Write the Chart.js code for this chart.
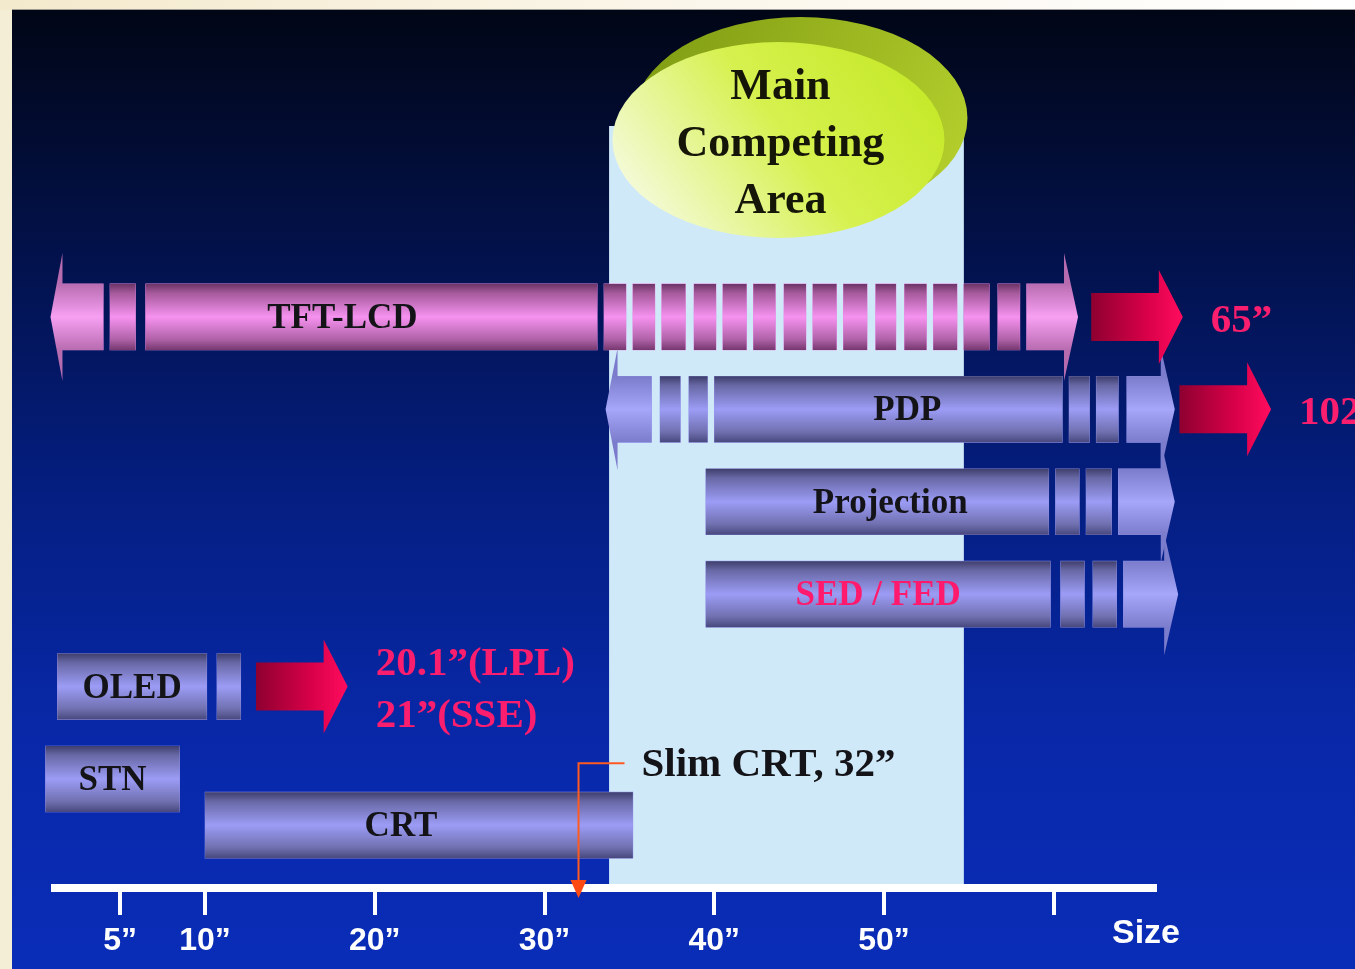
<!DOCTYPE html>
<html>
<head>
<meta charset="utf-8">
<script src="https://cdn.jsdelivr.net/npm/chart.js@4.4.1/dist/chart.umd.min.js"></script>
<style>
html,body{margin:0;padding:0;background:#f5eed6;overflow:hidden}
canvas{display:block}
</style>
</head>
<body>
<canvas id="c" width="1355" height="969"></canvas>
<script>
// ---------------- data (screen sizes in inches) ----------------
const categories = ['TFT-LCD', 'PDP', 'Projection', 'SED / FED', 'OLED', 'STN', 'CRT'];

const tftLcdSegments = [[1.6, 4.0], [4.4, 5.9], [6.5, 33.1], [33.5, 34.8], [35.2, 36.5], [36.9, 38.3],
  [38.8, 40.1], [40.5, 41.9], [42.3, 43.6], [44.1, 45.4], [45.8, 47.2], [47.6, 49.0], [49.5, 50.7],
  [51.2, 52.5], [52.9, 54.3], [54.7, 56.2], [56.7, 58.0], [58.4, 60.6]];
const pdpSegments = [[34.3, 36.3], [36.8, 38.0], [38.5, 39.6], [40.0, 60.5], [60.9, 62.1], [62.5, 63.8], [64.3, 66.3]];
const projectionSegments = [[39.5, 59.7], [60.1, 61.5], [61.9, 63.4], [63.8, 66.3]];
const sedFedSegments = [[39.5, 59.8], [60.4, 61.8], [62.3, 63.7], [64.1, 66.5]];
const oledSegments = [[1.3, 10.1], [10.7, 12.1]];
const stnSegments = [[0.6, 8.5]];
const crtSegments = [[10.0, 35.2]];

const leftArrowRows = ['TFT-LCD', 'PDP'];
const rightArrowRows = ['TFT-LCD', 'PDP', 'Projection', 'SED / FED'];

const growthRows = ['TFT-LCD', 'PDP', 'OLED'];
const growthRanges = [[62.2, 67.6], [67.4, 72.8], [13.0, 18.4]];
const growthLabels = [['65”'], ['102”'], ['20.1”(LPL)', '21”(SSE)']];

const xTickValues = [5, 10, 20, 30, 40, 50, 60];
const xTickLabels = ['5”', '10”', '20”', '30”', '40”', '50”', ''];
const axisTitle = 'Size';

const mainAreaRange = [33.8, 54.7];
const mainAreaLabel = ['Main', 'Competing', 'Area'];
const slimCrtSize = 32;
const slimCrtLabel = 'Slim CRT, 32”';

// ---------------- layout / style ----------------
const rowSegments = [tftLcdSegments, pdpSegments, projectionSegments, sedFedSegments, oledSegments, stnSegments, crtSegments];
// rows sit on every other lane; the last row (CRT) is tucked half a lane under STN
const lane = i => (i === categories.length - 1 ? 2 * (i - 1) + 1 : 2 * i);
const SERIF = '"Liberation Serif","Times New Roman",serif';
const SANS = '"Liberation Sans","Arial",sans-serif';
const labelShift = {'TFT-LCD': -29, 'PDP': 19, 'Projection': 13, 'CRT': -18};
const pinkStops = [[0, '#6c3466'], [0.14, '#a65a9c'], [0.5, '#f692f0'], [0.84, '#b062a8'], [1, '#76386f']];
const pinkArrowStops = [[0, '#b86cb0'], [0.5, '#f7a0f3'], [1, '#b86cb0']];
const lavStops = [[0, '#3e3e6c'], [0.14, '#6868a6'], [0.5, '#9c9cf6'], [0.84, '#7070b0'], [1, '#48487e']];
const lavArrowStops = [[0, '#7c7ccc'], [0.5, '#a6a6fa'], [1, '#7c7ccc']];

function vGrad(ctx, top, bottom, stops) {
  const g = ctx.createLinearGradient(0, top, 0, bottom);
  stops.forEach(([o, c]) => g.addColorStop(o, c));
  return g;
}

const deco = {
  id: 'deco',
  beforeDraw(chart) {
    const ctx = chart.ctx, W = chart.width, H = chart.height;
    ctx.save();
    ctx.fillStyle = '#f5eed6';
    ctx.fillRect(0, 0, W, H);
    const tg = ctx.createLinearGradient(0, 0, W, 0);
    tg.addColorStop(0, '#f3e9cc'); tg.addColorStop(0.5, '#fbf6ea'); tg.addColorStop(1, '#ffffff');
    ctx.fillStyle = tg;
    ctx.fillRect(0, 0, W, 10);
    const bg = ctx.createLinearGradient(0, 10, 0, H);
    bg.addColorStop(0, '#010616');
    bg.addColorStop(0.25, '#02114a');
    bg.addColorStop(0.5, '#041e80');
    bg.addColorStop(0.75, '#0828a8');
    bg.addColorStop(1, '#0a2db8');
    ctx.fillStyle = bg;
    ctx.fillRect(12, 10, W - 12, H - 10);
    ctx.fillStyle = 'rgba(120,120,120,0.7)';
    ctx.fillRect(12, 9, W - 12, 1);
    ctx.restore();
  },
  beforeDatasetsDraw(chart) {
    const ctx = chart.ctx, xs = chart.scales.x, area = chart.chartArea;
    const xa = xs.getPixelForValue(mainAreaRange[0]);
    const xb = xs.getPixelForValue(mainAreaRange[1]);
    const mid = (xa + xb) / 2;
    ctx.save();
    ctx.fillStyle = '#cfe9f9';
    ctx.fillRect(xa, 126, xb - xa, area.bottom - 4 - 126);
    // outer (shadow) ellipse
    const ocx = mid + 14, ocy = 118;
    const og = ctx.createLinearGradient(ocx - 160, ocy - 100, ocx + 160, ocy + 60);
    og.addColorStop(0, '#7e9a12'); og.addColorStop(1, '#b4cf2c');
    ctx.fillStyle = og;
    ctx.beginPath(); ctx.ellipse(ocx, ocy, 167, 101, 0, 0, Math.PI * 2); ctx.fill();
    // inner ellipse
    const icx = mid - 8, icy = 140;
    const ig = ctx.createLinearGradient(icx + 120, icy - 90, icx - 130, icy + 95);
    ig.addColorStop(0, '#c6e92a'); ig.addColorStop(0.45, '#d6f14e'); ig.addColorStop(1, '#f6fbe2');
    ctx.fillStyle = ig;
    ctx.beginPath(); ctx.ellipse(icx, icy, 166, 98, 0, 0, Math.PI * 2); ctx.fill();
    ctx.fillStyle = '#161608';
    ctx.font = 'bold 44px ' + SERIF;
    ctx.textAlign = 'center'; ctx.textBaseline = 'middle';
    mainAreaLabel.forEach((t, k) => ctx.fillText(t, icx + 2, 88 + k * 57));
    ctx.restore();
  },
  afterDatasetsDraw(chart) {
    const ctx = chart.ctx, xs = chart.scales.x, ys = chart.scales.y;
    ctx.save();
    chart.data.datasets.forEach((ds, di) => {
      const name = categories[di];
      const meta = chart.getDatasetMeta(di);
      const pink = name === 'TFT-LCD';
      let best = null, bestLen = -1;
      meta.data.forEach((el, j) => {
        const {x, y, base, height} = el.getProps(['x', 'y', 'base', 'height'], true);
        const L = Math.min(x, base), R = Math.max(x, base), T = y - height / 2, B = y + height / 2;
        const leftHead = j === 0 && leftArrowRows.includes(name);
        const rightHead = j === meta.data.length - 1 && rightArrowRows.includes(name);
        const spike = pink ? 31 : 28;
        ctx.beginPath();
        ctx.moveTo(L, T);
        ctx.lineTo(R, T);
        if (rightHead) { ctx.lineTo(R, T - spike); ctx.lineTo(R + 14, y); ctx.lineTo(R, B + spike); }
        ctx.lineTo(R, B);
        ctx.lineTo(L, B);
        if (leftHead) { ctx.lineTo(L, B + spike); ctx.lineTo(L - 12, y); ctx.lineTo(L, T - spike); }
        ctx.closePath();
        const arrowSeg = leftHead || rightHead;
        const stops = pink ? (arrowSeg ? pinkArrowStops : pinkStops) : (arrowSeg ? lavArrowStops : lavStops);
        ctx.fillStyle = vGrad(ctx, T, B, stops);
        ctx.fill();
        if (R - L > bestLen) { bestLen = R - L; best = {L, R, y}; }
      });
      if (best) {
        ctx.font = 'bold 35px ' + SERIF;
        ctx.textAlign = 'center'; ctx.textBaseline = 'middle';
        ctx.fillStyle = name === 'SED / FED' ? '#ff1a6e' : '#141418';
        ctx.fillText(name, (best.L + best.R) / 2 + (labelShift[name] || 0), best.y + 2);
      }
    });

    // growth arrows
    growthRows.forEach((name, k) => {
      const i = categories.indexOf(name);
      const yc = ys.getPixelForValue(lane(i));
      const x0 = xs.getPixelForValue(growthRanges[k][0]);
      const x1 = xs.getPixelForValue(growthRanges[k][1]);
      const hx = x1 - 24;
      const g = ctx.createLinearGradient(x0, 0, x1, 0);
      g.addColorStop(0, '#8e0030'); g.addColorStop(0.6, '#d80048'); g.addColorStop(1, '#ff0c5e');
      ctx.fillStyle = g;
      ctx.beginPath();
      ctx.moveTo(x0, yc - 24); ctx.lineTo(hx, yc - 24); ctx.lineTo(hx, yc - 47);
      ctx.lineTo(x1, yc); ctx.lineTo(hx, yc + 47); ctx.lineTo(hx, yc + 24); ctx.lineTo(x0, yc + 24);
      ctx.closePath(); ctx.fill();
      const lines = growthLabels[k];
      ctx.fillStyle = '#fb1e6e';
      ctx.font = 'bold 41px ' + SERIF;
      ctx.textAlign = 'left'; ctx.textBaseline = 'middle';
      lines.forEach((t, m) => {
        const off = (m - (lines.length - 1) / 2) * 52;
        ctx.fillText(t, x1 + 28, yc + 4 + off);
      });
    });

    // slim CRT annotation
    const ci = categories.indexOf('CRT');
    const crtY = ys.getPixelForValue(lane(ci));
    const sx = xs.getPixelForValue(slimCrtSize);
    const ty = crtY - 62;
    ctx.strokeStyle = '#ff5a20'; ctx.lineWidth = 2;
    ctx.beginPath();
    ctx.moveTo(sx + 46, ty); ctx.lineTo(sx, ty); ctx.lineTo(sx, chart.chartArea.bottom - 6);
    ctx.stroke();
    ctx.fillStyle = '#141418';
    ctx.font = 'bold 41px ' + SERIF;
    ctx.textAlign = 'left'; ctx.textBaseline = 'middle';
    ctx.fillText(slimCrtLabel, sx + 63, ty + 2);
    ctx.restore();
  },
  afterDraw(chart) {
    const ctx = chart.ctx, xs = chart.scales.x, area = chart.chartArea;
    const sx = xs.getPixelForValue(slimCrtSize);
    ctx.save();
    ctx.fillStyle = '#ff4a14';
    ctx.beginPath();
    ctx.moveTo(sx - 8, area.bottom - 8); ctx.lineTo(sx + 8, area.bottom - 8); ctx.lineTo(sx, area.bottom + 10);
    ctx.closePath(); ctx.fill();
    ctx.fillStyle = '#ffffff';
    ctx.font = 'bold 34px ' + SANS;
    ctx.textAlign = 'right'; ctx.textBaseline = 'middle';
    ctx.fillText(axisTitle, area.right + 25, 934);
    ctx.restore();
  }
};

new Chart(document.getElementById('c'), {
  type: 'bar',
  data: {
    datasets: categories.map((name, i) => ({
      label: name,
      data: rowSegments[i].map(s => ({x: s, y: lane(i)})),
      backgroundColor: name === 'TFT-LCD' ? '#e88ae4' : '#9494ee',
      borderWidth: 0,
      barThickness: 66,
      grouped: false,
      clip: false
    }))
  },
  options: {
    indexAxis: 'y',
    responsive: false,
    animation: false,
    devicePixelRatio: 1,
    layout: {padding: {left: 55, right: 200, top: 0, bottom: 0}},
    plugins: {legend: {display: false}, tooltip: {enabled: false}},
    scales: {
      y: {type: 'linear', display: false, reverse: true, min: -6.86, max: 12.36, offset: false},
      x: {
        type: 'linear', position: 'bottom', min: 1.16, max: 65.96, offset: false,
        afterBuildTicks: s => { s.ticks = xTickValues.map(v => ({value: v})); },
        afterFit: s => { s.height = 81; },
        border: {display: true, color: '#ffffff', width: 8},
        grid: {display: true, drawOnChartArea: false, drawTicks: true, tickLength: 27, lineWidth: 4, color: '#ffffff', offset: false},
        ticks: {
          autoSkip: false, maxRotation: 0, minRotation: 0, padding: 7, color: '#ffffff',
          font: {family: '"Liberation Sans Narrow","Liberation Sans",Arial,sans-serif', size: 32, weight: 'bold'},
          callback: v => { const k = xTickValues.indexOf(v); return k >= 0 ? xTickLabels[k] : ''; }
        }
      }
    }
  },
  plugins: [deco]
});
</script>
</body>
</html>
